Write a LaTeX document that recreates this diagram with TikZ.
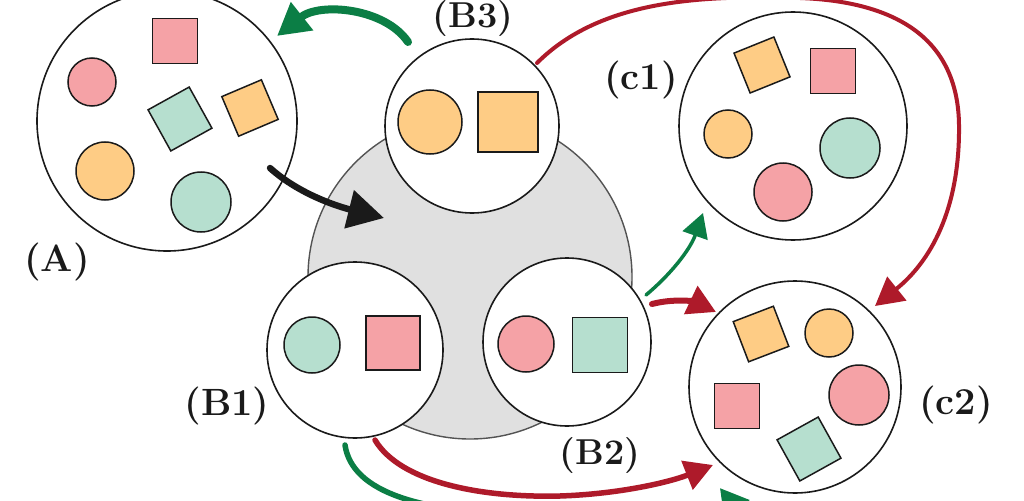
\documentclass[tikz,border=0pt]{standalone}
\usetikzlibrary{arrows.meta}
\definecolor{pinkF}{HTML}{F5A2A6}
\definecolor{orangeF}{HTML}{FECC85}
\definecolor{greenF}{HTML}{B6DFCF}
\definecolor{greyF}{HTML}{E0E0E0}
\definecolor{redA}{HTML}{AE1A2A}
\definecolor{greenA}{HTML}{0B7E45}
\definecolor{inkD}{HTML}{1A1A1A}
\tikzset{
  bigc/.style={circle, draw=inkD, line width=1.6pt, fill=white, inner sep=0pt},
  dot/.style={circle, draw=inkD, line width=1.5pt, inner sep=0pt, minimum size=#1},
  sq/.style={rectangle, draw=inkD, line width=1.5pt, inner sep=0pt, minimum size=#1},
  pinkc/.style={dot=#1, fill=pinkF},
  orangec/.style={dot=#1, fill=orangeF},
  greenc/.style={dot=#1, fill=greenF},
  pinks/.style={sq=#1, fill=pinkF},
  oranges/.style={sq=#1, fill=orangeF},
  greens/.style={sq=#1, fill=greenF},
  lab/.style={font=\fontsize{38}{40}\selectfont\bfseries, text=inkD, inner sep=0pt},
  redarrow/.style={draw=redA, line width=#1, line cap=round, -{Triangle[length=28pt,width=30pt]}},
  greenarrow/.style={draw=greenA, line width=#1, line cap=round, -{Triangle[length=28pt,width=30pt]}},
}
\begin{document}
\begin{tikzpicture}[x=1pt,y=-1pt]
\useasboundingbox (0,0) rectangle (1024,500);
\clip (0,0) rectangle (1024,500);
\fill[white] (0,0) rectangle (1024,500);

% grey group circle
\node[circle, draw=inkD!75, line width=1.4pt, fill=greyF, minimum size=324pt, inner sep=0pt] (G) at (470,277) {};

% circles
\node[bigc, minimum size=260pt] (A) at (167,121) {};
\node[bigc, minimum size=174pt] (B3) at (472,126) {};
\node[bigc, minimum size=176pt] (B1) at (355,350) {};
\node[bigc, minimum size=168pt] (B2) at (567,342) {};
\node[bigc, minimum size=228pt] (C1) at (793,126) {};
\node[bigc, minimum size=212pt] (C2) at (795,387) {};

% contents of A
\node[pinks=45pt] (a1) at (175,41) {};
\node[pinkc=48pt] (a2) at (92,82) {};
\node[greens=47pt, rotate=29] (a3) at (180,119) {};
\node[oranges=43pt, rotate=23] (a4) at (250,108) {};
\node[orangec=58pt] (a5) at (105,171) {};
\node[greenc=60pt] (a6) at (201,202) {};

% contents of B3
\node[orangec=64pt] (b31) at (430,122) {};
\node[oranges=60pt] (b32) at (508,122) {};

% contents of B1
\node[greenc=56pt] (b11) at (312,345) {};
\node[pinks=54pt] (b12) at (393,343) {};

% contents of B2
\node[pinkc=56pt] (b21) at (526,344) {};
\node[greens=55pt] (b22) at (600,345) {};

% contents of C1
\node[oranges=43pt, rotate=22] (c11) at (762,65) {};
\node[pinks=45pt] (c12) at (833,71) {};
\node[orangec=48pt] (c13) at (728,134) {};
\node[greenc=60pt] (c14) at (850,148) {};
\node[pinkc=58pt] (c15) at (783,192) {};

% contents of C2
\node[oranges=43pt, rotate=21] (c21) at (761,334) {};
\node[orangec=48pt] (c22) at (829,333) {};
\node[pinkc=60pt] (c23) at (859,395) {};
\node[pinks=45pt] (c24) at (737,406) {};
\node[greens=47pt, rotate=29] (c25) at (809,449) {};

% labels
\node[lab] (lA) at (57,262) {(A)};
\node[lab, font=\fontsize{36}{38}\selectfont\bfseries] (lB3) at (473,19) {(B3)};
\node[lab] (lB1) at (227,406) {(B1)};
\node[lab, font=\fontsize{36}{38}\selectfont\bfseries] (lB2) at (600,456) {(B2)};
\node[lab] (lC1) at (641,80) {(c1)};
\node[lab] (lC2) at (956,405) {(c2)};

% free ends
\coordinate (kA) at (270,168);
\coordinate (kG) at (384,218);
\coordinate (gB3) at (408,42);
\coordinate (gA) at (277,36);
\coordinate (rB3) at (537,63);
\coordinate (rC2a) at (875,306);
\coordinate (rB2) at (652,304);
\coordinate (rC2b) at (716,312);
\coordinate (gB2) at (646,295);
\coordinate (gC1) at (703,213);
\coordinate (rB1) at (375,440);
\coordinate (rC2c) at (713,465);
\coordinate (gB1) at (345,445);
\coordinate (gC2) at (750,500);

% arrows
\draw[draw=inkD, line width=6.5pt, line cap=round, -{Triangle[length=36pt,width=38pt]}]
  (kA) .. controls (300,195) and (340,207) .. (kG);
\draw[greenarrow=8pt, -{Triangle[length=32pt,width=34pt]}] (gB3) .. controls (385,8) and (320,2) .. (gA);
\draw[redarrow=4pt] (rB3) .. controls (600,0) and (700,-5) .. (800,-2)
  .. controls (905,2) and (958,45) .. (959,125)
  .. controls (960,210) and (930,262) .. (rC2a);
\draw[redarrow=6pt] (rB2) .. controls (675,298) and (695,302) .. (rC2b);
\draw[greenarrow=3.5pt, -{Triangle[length=24pt,width=26pt]}] (gB2) .. controls (670,275) and (690,250) .. (gC1);
\draw[redarrow=5.5pt] (rB1) .. controls (400,482) and (480,498) .. (560,496)
  .. controls (620,494) and (670,482) .. (rC2c);
\draw[greenarrow=5.5pt] (gB1) .. controls (352,492) and (420,515) .. (550,515)
  .. controls (650,515) and (700,507) .. (gC2);
\end{tikzpicture}
\end{document}
